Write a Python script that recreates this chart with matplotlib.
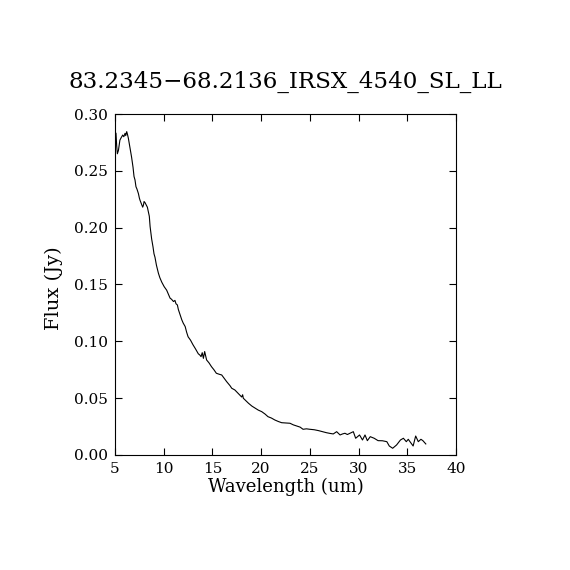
import matplotlib
matplotlib.use("Agg")
from matplotlib import pyplot as plt

# spectrum (wavelength in um, flux in Jy)
wavelength = [5.10, 5.17, 5.24, 5.35, 5.50, 5.62, 5.79, 5.90, 6.03, 6.10, 6.20, 6.28,
              6.37, 6.50, 6.70, 6.85, 6.95, 7.05, 7.15, 7.25, 7.40, 7.50, 7.57, 7.70,
              7.84, 7.92, 7.98, 8.08, 8.20, 8.32, 8.42, 8.52, 8.60, 8.76, 8.90, 9.00,
              9.10, 9.25, 9.45, 9.60, 9.80, 10.05, 10.30, 10.50, 10.65, 10.80, 11.00,
              11.15, 11.26, 11.40, 11.50, 11.70, 11.85, 12.00, 12.20, 12.35, 12.50,
              12.75, 13.00, 13.25, 13.55, 13.70, 13.83, 13.95, 14.07, 14.20, 14.40,
              14.65, 14.90, 15.15, 15.40, 15.70, 15.95, 16.20, 16.46, 16.80, 16.98,
              17.30, 17.55, 17.80, 18.00, 18.10, 18.17, 18.40, 18.70, 19.05, 19.40,
              19.70, 20.06, 20.40, 20.70, 21.05, 21.40, 21.75, 22.10, 22.50, 22.96,
              23.30, 23.65, 24.00, 24.30, 24.65, 25.00, 25.45, 25.90, 26.30, 26.70,
              27.05, 27.40, 27.75, 28.10, 28.35, 28.60, 28.85, 29.10, 29.46, 29.70,
              30.10, 30.40, 30.66, 30.90, 31.20, 31.60, 32.00, 32.45, 32.90, 33.15,
              33.50, 33.90, 34.30, 34.60, 34.90, 35.10, 35.35, 35.60, 35.86, 36.13,
              36.40, 36.60, 36.90]
flux = [0.283, 0.272, 0.265, 0.268, 0.277, 0.279, 0.2815, 0.2800, 0.2830, 0.2810, 0.2845, 0.2820,
        0.2786, 0.2720, 0.2620, 0.2530, 0.2450, 0.2420, 0.2360, 0.2340, 0.2300, 0.2260, 0.2240, 0.2210,
        0.2180, 0.2200, 0.2230, 0.2220, 0.2200, 0.2180, 0.2140, 0.2100, 0.2010, 0.1900, 0.1830, 0.1770,
        0.1740, 0.1670, 0.1600, 0.1560, 0.1520, 0.1480, 0.1450, 0.1410, 0.1380, 0.1370, 0.1350,
        0.1360, 0.1330, 0.1320, 0.1280, 0.1230, 0.1190, 0.1160, 0.1130, 0.1080, 0.1040,
        0.1010, 0.0970, 0.0935, 0.0890, 0.0880, 0.0865, 0.0900, 0.0850, 0.0910, 0.0836,
        0.0810, 0.0777, 0.0750, 0.0719, 0.0710, 0.0704, 0.0675, 0.0645, 0.0610, 0.0587,
        0.0572, 0.0550, 0.0528, 0.0510, 0.0530, 0.0499, 0.0480, 0.0455, 0.0430, 0.0411,
        0.0395, 0.0381, 0.0360, 0.0337, 0.0325, 0.0308, 0.0295, 0.0284, 0.0282, 0.0279,
        0.0265, 0.0255, 0.0245, 0.0226, 0.0230, 0.0226, 0.0222, 0.0214, 0.0205, 0.0196,
        0.0190, 0.0185, 0.0205, 0.0176, 0.0185, 0.0191, 0.0180, 0.0190, 0.0205, 0.0147,
        0.0176, 0.0132, 0.0176, 0.0126, 0.0161, 0.0147, 0.0126, 0.0125, 0.0117, 0.0079,
        0.0059, 0.0088, 0.0132, 0.0147, 0.0117, 0.0138, 0.0108, 0.0079, 0.0167, 0.0117,
        0.0138, 0.0126, 0.0097]

title = "83.2345\u221268.2136_IRSX_4540_SL_LL"
xticks = [5, 10, 15, 20, 25, 30, 35, 40]
yticks = [0.00, 0.05, 0.10, 0.15, 0.20, 0.25, 0.30]

plt.rcParams['font.family'] = ['DejaVu Serif']

fig = plt.figure(figsize=(5.7, 5.7), dpi=100)
ax = fig.add_axes([0.2018, 0.2018, 0.5982, 0.5982])
ax.plot(wavelength, flux, color='black', linewidth=0.8)

ax.set_xlim(5, 40)
ax.set_ylim(0, 0.30)
ax.set_xticks(xticks)
ax.set_yticks(yticks)
ax.set_xticklabels([str(t) for t in xticks])
ax.set_yticklabels([f"{t:.2f}" for t in yticks])
ax.tick_params(direction='in', length=5, width=0.8, top=True, right=True,
               labelsize=11, pad=5)
for side in ax.spines.values():
    side.set_linewidth(0.8)

ax.set_xlabel("Wavelength (um)", fontsize=13, labelpad=1)
ax.set_ylabel("Flux (Jy)", fontsize=14)
ax.yaxis.set_label_coords(-0.153, 0.49)
ax.set_title(title, fontsize=16.6, pad=19)

fig.savefig("out.png", dpi=100)
